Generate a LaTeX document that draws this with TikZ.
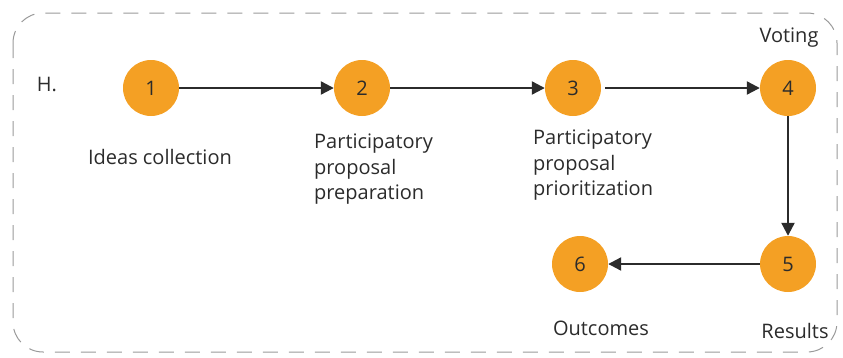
\documentclass[tikz,border=0pt]{standalone}
\usepackage{fontspec}
\setmainfont{Open Sans}
\usepackage{xcolor}
\usepackage{tikz}
\usetikzlibrary{calc,arrows.meta}
\definecolor{ink}{HTML}{2B2B2B}
\definecolor{muted}{HTML}{999999}
\definecolor{amber}{HTML}{F4A024}
\tikzset{
  frame/.style={draw=muted, line width=1pt, dash pattern=on 15pt off 11pt, rounded corners=30pt},
  flow/.style={draw=ink, line width=2.2pt, -{Triangle[length=13pt,width=13pt]}},
  stepdot/.style={circle, fill=amber, draw=none, minimum size=56pt, inner sep=0pt, text=ink, font=\fontsize{20}{22}\selectfont},
  lab/.style={text=ink, font=\fontsize{20}{25.5}\selectfont, inner sep=0pt},
}

\begin{document}
\begin{tikzpicture}[x=1pt,y=-1pt]
  \useasboundingbox (0,0) rectangle (843,357);
  \draw[frame] (13,13) rectangle (837,352);
  \node[lab] (tag) at (47,84) {H.};
  % steps
  \node[stepdot] (s1) at (151,88) {1};
  \node[stepdot] (s2) at (362,88) {2};
  \node[stepdot] (s3) at (573,88) {3};
  \node[stepdot] (s4) at (788,88) {4};
  \node[stepdot] (s5) at (788,264) {5};
  \node[stepdot] (s6) at (580,264) {6};
  \draw[flow] (s1) -- (s2);
  \draw[flow] (s2) -- (s3);
  \draw[flow] (s3.east) ++(4,0) -- (s4.west);
  \draw[flow] (s4) -- (s5);
  \draw[flow] (s5) -- (s6);
  % labels
  \node[lab] (l1) at (160,157) {Ideas collection};
  \node[lab,anchor=north west,align=left] (l2) at (314,134) {Participatory\\proposal\\preparation};
  \node[lab,anchor=north west,align=left] (l3) at (533,130) {Participatory\\proposal\\prioritization};
  \node[lab] (l4) at (789,38) {Voting};
  \node[lab] (l6) at (601,328) {Outcomes};
  \node[lab] (l5) at (795,331) {Results};
\end{tikzpicture}
\end{document}
